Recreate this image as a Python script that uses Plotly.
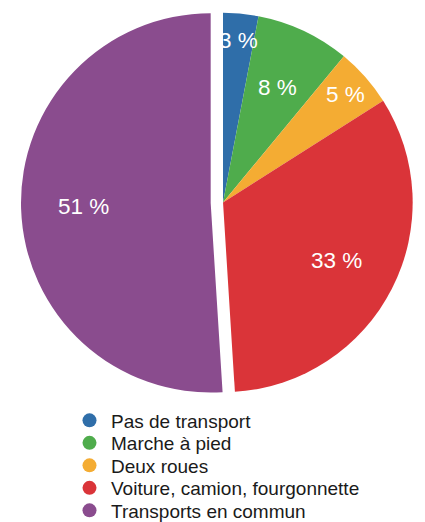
import math
import plotly.graph_objects as go

categories = ["Pas de transport", "Marche à pied", "Deux roues",
              "Voiture, camion, fourgonnette", "Transports en commun"]
values = [3, 8, 5, 33, 51]
colors = ["#2f6ea9", "#4fac4c", "#f4ac33", "#da3439", "#8a4c8e"]
pulls = [0, 0, 0, 0, 0.065]

W, H = 425, 522
dom_x = [21 / W, 1.0]
dom_y = [1 - 405 / H, 1.0]

fig = go.Figure()
fig.add_trace(go.Pie(
    labels=categories,
    values=values,
    sort=False,
    direction="clockwise",
    rotation=0,
    pull=pulls,
    marker=dict(colors=colors, line=dict(width=0)),
    textinfo="none",
    hoverinfo="label+value",
    showlegend=False,
    domain=dict(x=dom_x, y=dom_y),
))

# Slice labels: placed along each slice's bisector (same geometry plotly uses for the pie)
cx = (dom_x[0] + dom_x[1]) / 2 * W
cy = (1 - (dom_y[0] + dom_y[1]) / 2) * H
r = min((dom_x[1] - dom_x[0]) * W, (dom_y[1] - dom_y[0]) * H) / 2 / (1 + max(pulls))
total = sum(values)
annotations = []
cum = 0
for v, p in zip(values, pulls):
    mid = (cum + v / 2) / total * 2 * math.pi
    cum += v
    frac = 0.67 if v >= 8 else 0.86
    d = (p + frac) * r
    px = cx + d * math.sin(mid)
    py = cy - d * math.cos(mid)
    annotations.append(dict(
        x=px / W, y=1 - py / H, xref="paper", yref="paper",
        text=f"{v} %", showarrow=False, xanchor="center", yanchor="middle",
        font=dict(family="Liberation Sans, Arial, sans-serif", size=22.5, color="white"),
    ))

legend_names = ["legend", "legend2", "legend3", "legend4", "legend5"]
for name, col, lg in zip(categories, colors, legend_names):
    fig.add_trace(go.Scatter(
        x=[None], y=[None], mode="markers", name=name,
        marker=dict(symbol="circle", size=14, color=col),
        showlegend=True, legend=lg,
    ))

leg_common = dict(
    x=68 / W, xanchor="left", yanchor="middle",
    font=dict(family="Liberation Sans, Arial, sans-serif", size=19, color="#1a1a1a"),
    bgcolor="rgba(0,0,0,0)",
    itemclick=False,
    itemwidth=33,
)
centers = [420.5, 443, 465.5, 488, 510.5]
legs = {lg: dict(leg_common, y=1 - c / H) for lg, c in zip(legend_names, centers)}

fig.update_layout(
    width=W, height=H,
    margin=dict(l=0, r=0, t=0, b=0, autoexpand=False),
    paper_bgcolor="white",
    plot_bgcolor="white",
    xaxis=dict(visible=False),
    yaxis=dict(visible=False),
    annotations=annotations,
    **legs,
)

fig.write_html("out.html")
